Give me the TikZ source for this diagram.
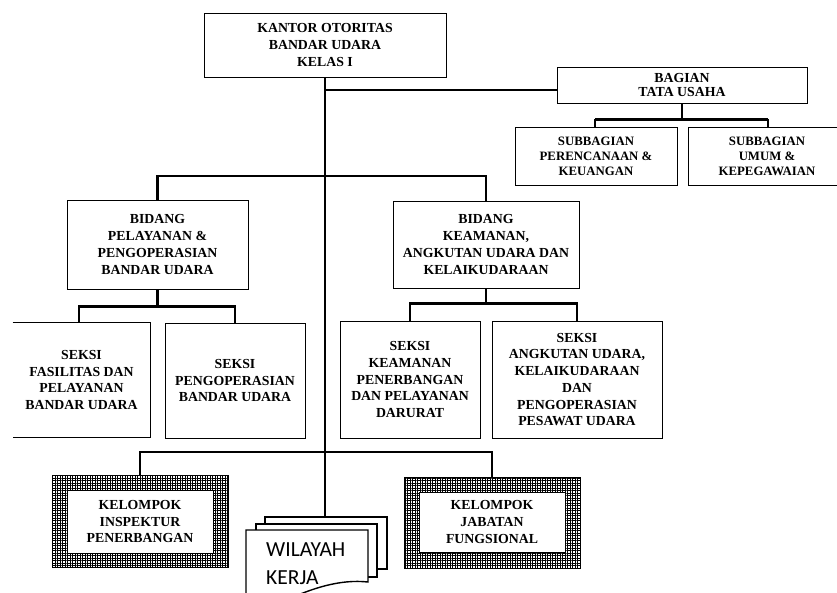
\documentclass[tikz,border=0pt]{standalone}
\usepackage{fontspec}
\setmainfont{Liberation Serif}
\newfontfamily\wilfont{Carlito}
\usetikzlibrary{patterns.meta,calc}
\begin{document}
\begin{tikzpicture}[x=1pt,y=-1pt,
  box/.style={draw=black, line width=0.8pt, fill=white, align=center, inner sep=0pt,
    font=\bfseries\fontsize{13.8}{16.7}\selectfont},
  openbox/.style={box, draw=none},
  smallbox/.style={box, font=\bfseries\fontsize{12.8}{15}\selectfont},
  hatchbox/.style={draw=black, line width=0.8pt, inner sep=0pt, fill=white,
    postaction={pattern={Hatch[angle=0, distance=2.5pt, line width=0.4pt]}}},
  conn/.style={draw=black, line width=2.6pt, line join=miter},
  pageshape/.style={draw=black, line width=1.4pt, fill=white},
]
\useasboundingbox (0,0) rectangle (837,593);

% top
\node[box, minimum width=242pt, minimum height=64pt] (kantor) at (325,45)
  {KANTOR OTORITAS\\BANDAR UDARA\\KELAS I};
\node[box, font=\bfseries\fontsize{13.8}{14.5}\selectfont, minimum width=250pt, minimum height=36pt]
  (bagian) at (682,85) {BAGIAN\\TATA USAHA};
\node[smallbox, minimum width=162pt, minimum height=58pt] (sub1) at (596,156.5)
  {SUBBAGIAN\\PERENCANAAN \&\\KEUANGAN};
\node[smallbox, minimum width=158pt, minimum height=58pt] (sub2) at (767,156.5)
  {SUBBAGIAN\\UMUM \&\\KEPEGAWAIAN};

% bidang
\node[box, minimum width=181pt, minimum height=89pt] (bid1) at (157.5,244.5)
  {BIDANG\\PELAYANAN \&\\PENGOPERASIAN\\BANDAR UDARA};
\node[box, minimum width=186pt, minimum height=87pt] (bid2) at (486,244.5)
  {BIDANG\\KEAMANAN,\\ANGKUTAN UDARA DAN\\KELAIKUDARAAN};

% seksi
\node[openbox, minimum width=137pt, minimum height=114pt] (sek1) at (81.5,380)
  {SEKSI\\FASILITAS DAN\\PELAYANAN\\BANDAR UDARA};
\draw[line width=0.8pt] (sek1.north west) -- (sek1.north east) -- (sek1.south east) -- (sek1.south west);
\node[box, minimum width=140pt, minimum height=115pt] (sek2) at (235,380.5)
  {SEKSI\\PENGOPERASIAN\\BANDAR UDARA};
\node[box, minimum width=140pt, minimum height=117pt] (sek3) at (410,379.5)
  {SEKSI\\KEAMANAN\\PENERBANGAN\\DAN PELAYANAN\\DARURAT};
\node[box, minimum width=170pt, minimum height=117pt] (sek4) at (577,379.5)
  {SEKSI\\ANGKUTAN UDARA,\\KELAIKUDARAAN\\DAN\\PENGOPERASIAN\\PESAWAT UDARA};

% kelompok
\node[hatchbox, minimum width=176pt, minimum height=92pt] (kel1o) at (140,521) {};
\node[box, minimum width=146pt, minimum height=63pt] (kel1) at (140,521.5)
  {KELOMPOK\\INSPEKTUR\\PENERBANGAN};
\node[hatchbox, minimum width=176pt, minimum height=91pt] (kel2o) at (492,522.5) {};
\node[box, minimum width=146pt, minimum height=60pt] (kel2) at (492,522)
  {KELOMPOK\\JABATAN\\FUNGSIONAL};

% wilayah kerja (stacked documents)
\draw[pageshape] (265,517) rectangle (387,569);
\draw[pageshape] (256,524) rectangle (377,577);
\draw[pageshape] (246,530) -- (368,530) -- (368,582)
  .. controls (340,579) and (312,588) .. (282,602) -- (246,602) -- cycle;
\node[anchor=north west, inner sep=0pt, align=left, font=\wilfont\fontsize{21.5}{28}\selectfont]
  (wil) at (266,543) {WILAYAH\\KERJA};
\coordinate (wtop) at (325,517);

% connectors
\coordinate (j1) at (325,90);
\coordinate (bbus) at (325,176);
\coordinate (kbus) at (325,452);
\draw[conn] (kantor.south) -- (kantor.south |- wtop);
\draw[conn] (j1) -- (j1 -| bagian.west);
\draw[conn] (bagian.south) -- ++(0,16) coordinate (tb)
  (tb -| 595,0) -- (tb -| 768,0);
\draw[conn] (tb -| 595,0) -- (595,127.5);
\draw[conn] (tb -| 768,0) -- (768,127.5);
\draw[conn] (bid1.north) |- (bbus) -| (bid2.north);
\draw[conn] (bid1.south) -- ++(0,17) coordinate (t1);
\draw[conn] (sek1.north -| 79,0) |- (t1) -| (sek2.north);
\draw[conn] (bid2.south) -- ++(0,15) coordinate (t2);
\draw[conn] (sek3.north) |- (t2) -| (sek4.north);
\draw[conn] (kel1o.north) |- (kbus) -| (kel2o.north);
\end{tikzpicture}
\end{document}
